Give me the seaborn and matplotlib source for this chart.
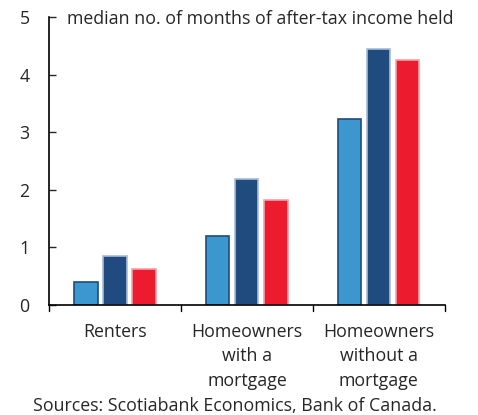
import matplotlib
matplotlib.use("Agg")
import matplotlib.pyplot as plt
import seaborn as sns
import pandas as pd

categories = ["Renters", "Homeowners\nwith a\nmortgage", "Homeowners\nwithout a\nmortgage"]
series = ["Series A", "Series B", "Series C"]
values_a = [0.40, 1.20, 3.23]
values_b = [0.85, 2.19, 4.45]
values_c = [0.62, 1.82, 4.25]
colors = ["#3d97cf", "#1f4b7e", "#ec1c2e"]
edges = ["#1f4b7e", "#a8bcd4", "#f6a0a8"]

rows = []
for s, vals in zip(series, [values_a, values_b, values_c]):
    for c, v in zip(categories, vals):
        rows.append({"cat": c, "series": s, "val": v})
df = pd.DataFrame(rows)

sns.set_style("white")
plt.rcParams['font.family'] = ['Open Sans', 'DejaVu Sans']

FS = 12.8
fig = plt.figure(figsize=(4.78, 4.15), dpi=100)
ax = fig.add_axes([0.1025, 0.265, 0.828, 0.694])
sns.barplot(data=df, x="cat", y="val", hue="series", order=categories,
            hue_order=series, palette=colors, width=0.66, gap=0.2,
            legend=False, ax=ax, saturation=1)
for i, patch in enumerate(ax.patches):
    patch.set_edgecolor(edges[i // 3] if i < 9 else "none")
    patch.set_linewidth(1.2)

ax.set_ylim(0, 5)
ax.set_xlim(-0.5, 2.5)
ax.set_yticks([0, 1, 2, 3, 4, 5])
ax.set_xticks([0, 1, 2])
ax.set_xticklabels(categories, fontsize=FS, linespacing=1.45)
ax.tick_params(axis='y', direction='in', length=5, width=1, labelsize=FS, pad=14, left=True)
ax.tick_params(axis='x', length=0, pad=13)
for xb in [-0.5, 0.5, 1.5, 2.5]:
    ax.plot([xb, xb], [0, -0.1], color='black', lw=1, clip_on=False, transform=ax.transData)
ax.set_xlabel("")
ax.set_ylabel("")
for s in ["top", "right"]:
    ax.spines[s].set_visible(False)
for s in ["left", "bottom"]:
    ax.spines[s].set_color("black")
    ax.spines[s].set_linewidth(1.2)

fig.text(0.545, 0.955, "median no. of months of after-tax income held", ha="center", va="center", fontsize=FS)
fig.text(0.069, 0.022, "Sources: Scotiabank Economics, Bank of Canada.", ha="left", va="center", fontsize=FS)

fig.savefig("out.png", dpi=100)
